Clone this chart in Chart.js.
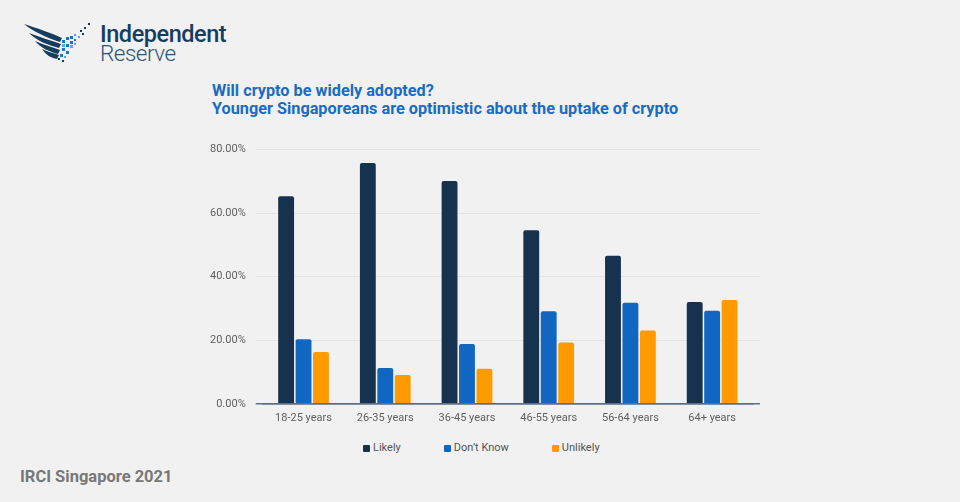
<!DOCTYPE html>
<html>
<head>
<meta charset="utf-8">
<script src="https://cdn.jsdelivr.net/npm/chart.js@4.4.1/dist/chart.umd.min.js"></script>
<style>
  html, body { margin: 0; padding: 0; }
  body {
    width: 960px; height: 502px; background: #f1f1f1;
    position: relative; overflow: hidden;
    font-family: Roboto, "Noto Sans", sans-serif;
  }
  .logo { position: absolute; left: 22px; top: 20px; width: 220px; height: 46px; }
  .logo svg { position: absolute; left: 0; top: 0; }
  .logo .l1 {
    position: absolute; left: 78px; top: 1px; font-size: 23.5px; font-weight: 500;
    color: #173d5e; letter-spacing: -0.45px; line-height: 26px;
  }
  .logo .l2 {
    position: absolute; left: 78px; top: 20px; font-size: 22.5px; font-weight: 300;
    color: #2c5677; letter-spacing: -0.5px; line-height: 26px;
  }
  .title {
    position: absolute; left: 212px; top: 82px; font-size: 16.25px; font-weight: 700;
    color: #1a6cc2; line-height: 18px;
  }
  .footer {
    position: absolute; left: 20px; top: 467px; font-size: 16.5px; font-weight: 700;
    color: #787878;
  }
  #wrap { position: absolute; left: 200px; top: 133px; width: 570px; height: 306px; }
  #legend {
    position: absolute; left: 363px; top: 441px; display: flex; gap: 43px;
    font-size: 11px; color: #555; line-height: 14px;
  }
  #legend .item { display: flex; align-items: center; }
  #legend .box { width: 7px; height: 7px; border-radius: 1px; margin-right: 3px; }
</style>
</head>
<body>
<div class="logo">
  <svg width="76" height="44" viewBox="0 0 76 44">
    <g fill="#173d5e">
      <path d="M2,4 C14,8 30,13 40,18 L38,22 C26,18 12,12 2,4 Z"/>
      <path d="M7,13 C18,17 30,21 39,24 L37,28 C26,25 15,21 7,13 Z"/>
      <path d="M13,21 C22,25 31,27 38,30 L36,34 C28,32 19,28 13,21 Z"/>
      <path d="M20,29 C26,32 32,33 37,35 L35,39 C29,38 24,35 20,29 Z"/>
    </g>
    <g fill="#1c73cf">
      <rect x="40" y="20" width="3" height="3"/><rect x="44" y="17" width="3" height="3"/>
      <rect x="48" y="16" width="3" height="3"/><rect x="44" y="24" width="3" height="3"/>
      <rect x="40" y="28" width="3" height="3"/><rect x="48" y="21" width="3" height="3"/>
      <rect x="52" y="19" width="2" height="2"/><rect x="44" y="31" width="3" height="3"/>
      <rect x="38" y="34" width="3" height="3"/>
    </g>
    <g fill="#5aa6e8">
      <rect x="40" y="24" width="3" height="3"/><rect x="48" y="25" width="3" height="3"/>
      <rect x="52" y="14" width="2" height="2"/><rect x="56" y="16" width="2" height="2"/>
      <rect x="42" y="36" width="2" height="2"/><rect x="52" y="23" width="2" height="2"/>
    </g>
    <g fill="#173d5e">
      <rect x="58" y="10" width="2" height="2"/><rect x="62" y="7" width="2" height="2"/>
      <rect x="66" y="3" width="2" height="2"/><rect x="60" y="13" width="2" height="2"/>
      <rect x="36" y="38" width="2" height="2"/><rect x="40" y="40" width="2" height="2"/>
    </g>
  </svg>
  <div class="l1">Independent</div>
  <div class="l2">Reserve</div>
</div>
<div class="title">Will crypto be widely adopted?<br>Younger Singaporeans are optimistic about the uptake of crypto</div>
<div id="wrap"><canvas id="chart"></canvas></div>
<div id="legend"></div>
<div class="footer">IRCI Singapore 2021</div>
<script>
const categories = ["18-25 years", "26-35 years", "36-45 years", "46-55 years", "56-64 years", "64+ years"];
const likely = [65.3, 75.8, 70.1, 54.6, 46.6, 32.0];
const dontKnow = [20.3, 11.3, 18.8, 29.1, 31.8, 29.3];
const unlikely = [16.3, 9.1, 11.0, 19.3, 23.1, 32.7];
const yTicks = [0, 20, 40, 60, 80];

const seriesNames = ["Likely", "Don\u2019t Know", "Unlikely"];
const seriesColors = ["#17324f", "#1066c0", "#ff9a00"];

const AXIS_COLOR = "#5b7088";
const GRID_COLOR = "#e3e3e3";

// gridlines run a few px past the plot on both sides; the 0 line is the dark baseline
const gridColor = c => (c.tick && c.tick.value === 0 ? AXIS_COLOR : GRID_COLOR);
const gridWidth = c => (c.tick && c.tick.value === 0 ? 1.5 : 1);

const ctx = document.getElementById("chart").getContext("2d");

const chart = new Chart(ctx, {
    type: "bar",
    data: {
        labels: categories,
        datasets: [likely, dontKnow, unlikely].map((vals, i) => ({
            label: seriesNames[i],
            data: vals,
            backgroundColor: seriesColors[i],
            borderRadius: 2,
            borderSkipped: "bottom",
            barPercentage: 0.91,
            categoryPercentage: 0.64
        }))
    },
    options: {
        responsive: true,
        maintainAspectRatio: false,
        animation: false,
        layout: { padding: { left: 0, right: 10, top: 2, bottom: 6 } },
        scales: {
            x: {
                grid: { display: false, drawTicks: false },
                border: { color: AXIS_COLOR, width: 1.5 },
                ticks: {
                    color: "#5f5f5f", padding: 8,
                    font: { family: "Roboto", size: 11 }
                }
            },
            y: {
                min: 0,
                max: 80,
                afterBuildTicks: axis => { axis.ticks = yTicks.map(v => ({ value: v })); },
                grid: { color: gridColor, lineWidth: gridWidth, tickLength: 7 },
                border: { display: false },
                ticks: {
                    color: "#5f5f5f", padding: 10,
                    font: { family: "Roboto", size: 11 },
                    callback: v => v.toFixed(2) + "%"
                }
            },
            yRight: {
                position: "right",
                min: 0,
                max: 80,
                afterBuildTicks: axis => { axis.ticks = yTicks.map(v => ({ value: v })); },
                grid: { color: gridColor, lineWidth: gridWidth, tickLength: 7, drawOnChartArea: false },
                border: { display: false },
                ticks: { display: false, padding: 0 }
            }
        },
        plugins: {
            legend: { display: false },
            tooltip: { enabled: false }
        }
    }
});

// legend built from the chart's own datasets
const legendEl = document.getElementById("legend");
chart.data.datasets.forEach(ds => {
    const item = document.createElement("div");
    item.className = "item";
    item.innerHTML = `<span class="box" style="background:${ds.backgroundColor}"></span><span>${ds.label}</span>`;
    legendEl.appendChild(item);
});
</script>
</body>
</html>
